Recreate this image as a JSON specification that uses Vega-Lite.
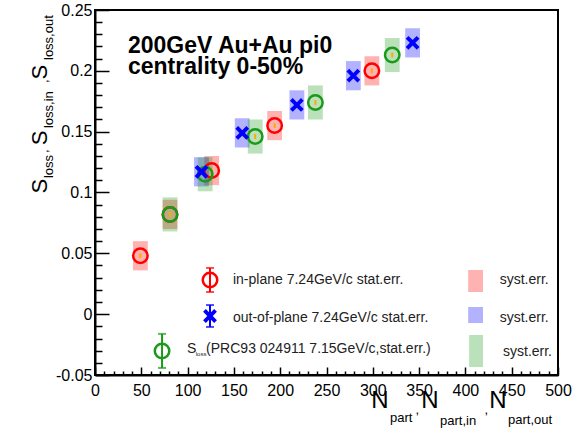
{
  "$schema": "https://vega.github.io/schema/vega-lite/v6.json",
  "width": 463,
  "height": 365,
  "autosize": {"type": "none"},
  "padding": {"left": 95, "top": 10, "right": 25, "bottom": 54},
  "background": "white",
  "config": {
    "font": "Liberation Sans",
    "view": {"stroke": "black", "strokeWidth": 2},
    "legend": {"disable": true}
  },
  "datasets": {
    "pts": [
      {"series": "in", "N": 49, "S": 0.048, "N_lo": 41, "N_hi": 57, "S_lo": 0.036, "S_hi": 0.060, "st_lo": 0.046, "st_hi": 0.050},
      {"series": "in", "N": 81, "S": 0.082, "N_lo": 73, "N_hi": 89, "S_lo": 0.070, "S_hi": 0.094, "st_lo": 0.080, "st_hi": 0.084},
      {"series": "in", "N": 126, "S": 0.118, "N_lo": 118, "N_hi": 134, "S_lo": 0.106, "S_hi": 0.130, "st_lo": 0.116, "st_hi": 0.120},
      {"series": "in", "N": 194, "S": 0.155, "N_lo": 186, "N_hi": 202, "S_lo": 0.143, "S_hi": 0.167, "st_lo": 0.153, "st_hi": 0.157},
      {"series": "in", "N": 299, "S": 0.200, "N_lo": 291, "N_hi": 307, "S_lo": 0.188, "S_hi": 0.212, "st_lo": 0.198, "st_hi": 0.202},
      {"series": "out", "N": 115, "S": 0.117, "N_lo": 107, "N_hi": 123, "S_lo": 0.105, "S_hi": 0.129, "st_lo": 0.115, "st_hi": 0.119},
      {"series": "out", "N": 159, "S": 0.149, "N_lo": 151, "N_hi": 167, "S_lo": 0.137, "S_hi": 0.161, "st_lo": 0.147, "st_hi": 0.151},
      {"series": "out", "N": 218, "S": 0.172, "N_lo": 210, "N_hi": 226, "S_lo": 0.160, "S_hi": 0.184, "st_lo": 0.170, "st_hi": 0.174},
      {"series": "out", "N": 279, "S": 0.196, "N_lo": 271, "N_hi": 287, "S_lo": 0.184, "S_hi": 0.208, "st_lo": 0.194, "st_hi": 0.198},
      {"series": "out", "N": 343, "S": 0.223, "N_lo": 335, "N_hi": 351, "S_lo": 0.211, "S_hi": 0.235, "st_lo": 0.221, "st_hi": 0.225},
      {"series": "prc", "N": 81, "S": 0.082, "N_lo": 73, "N_hi": 89, "S_lo": 0.068, "S_hi": 0.096, "st_lo": 0.080, "st_hi": 0.084},
      {"series": "prc", "N": 119, "S": 0.115, "N_lo": 111, "N_hi": 127, "S_lo": 0.101, "S_hi": 0.129, "st_lo": 0.113, "st_hi": 0.117},
      {"series": "prc", "N": 173, "S": 0.146, "N_lo": 165, "N_hi": 181, "S_lo": 0.132, "S_hi": 0.160, "st_lo": 0.144, "st_hi": 0.148},
      {"series": "prc", "N": 238, "S": 0.174, "N_lo": 230, "N_hi": 246, "S_lo": 0.160, "S_hi": 0.188, "st_lo": 0.172, "st_hi": 0.176},
      {"series": "prc", "N": 321, "S": 0.213, "N_lo": 313, "N_hi": 329, "S_lo": 0.199, "S_hi": 0.227, "st_lo": 0.211, "st_hi": 0.215}
    ],
    "leg": [
      {"series": "in", "x": 124.2, "y": 0.0281, "lo": 0.0182, "hi": 0.038},
      {"series": "out", "x": 124.2, "y": -0.0015, "lo": -0.0105, "hi": 0.0075},
      {"series": "prc", "x": 72.4, "y": -0.0302, "lo": -0.0442, "hi": -0.0162}
    ],
    "legbox": [
      {"series": "in", "x1": 403, "x2": 419, "y1": 0.0182, "y2": 0.0363},
      {"series": "out", "x1": 403, "x2": 419, "y1": -0.0073, "y2": 0.0059},
      {"series": "prc", "x1": 404, "x2": 419, "y1": -0.0434, "y2": -0.0171}
    ],
    "title": [
      {"t": "200GeV Au+Au pi0", "x": 35.6, "y": 0.2145},
      {"t": "centrality 0-50%", "x": 35.6, "y": 0.1978}
    ],
    "legtxt": [
      {"t": "in-plane 7.24GeV/c stat.err.", "x": 149, "y": 0.0281},
      {"t": "out-of-plane 7.24GeV/c stat.err.", "x": 149, "y": -0.0032},
      {"t": "S", "x": 99.4, "y": -0.0285},
      {"t": "(PRC93 024911 7.15GeV/c,stat.err.)", "x": 120, "y": -0.0285},
      {"t": "syst.err.", "x": 437, "y": 0.0281},
      {"t": "syst.err.", "x": 437, "y": -0.0032},
      {"t": "syst.err.", "x": 440.6, "y": -0.0311}
    ],
    "legsub": [
      {"t": "loss", "x": 108.8, "y": -0.0325}
    ],
    "ybig": [
      {"t": "S", "x": -59.4, "y": 0.1053},
      {"t": "S", "x": -59.4, "y": 0.1448},
      {"t": "S", "x": -59.4, "y": 0.199}
    ],
    "ysub": [
      {"t": "loss", "x": -49.7, "y": 0.1119},
      {"t": "loss,in", "x": -49.7, "y": 0.153},
      {"t": "loss,out", "x": -49.7, "y": 0.2089},
      {"t": ",", "x": -55, "y": 0.1325},
      {"t": ",", "x": -55, "y": 0.19}
    ],
    "xbig": [
      {"t": "N", "x": 307.8, "y": -0.0714},
      {"t": "N", "x": 361.8, "y": -0.0714},
      {"t": "N", "x": 435.2, "y": -0.0714}
    ],
    "xsub": [
      {"t": "part", "x": 318.6, "y": -0.0853},
      {"t": "part,in", "x": 372.6, "y": -0.0878},
      {"t": "part,out", "x": 446, "y": -0.087},
      {"t": ",", "x": 346, "y": -0.079},
      {"t": ",", "x": 420.5, "y": -0.079}
    ]
  },
  "resolve": {"axis": {"x": "independent", "y": "independent"}},
  "layer": [
    {
      "data": {"name": "pts"},
      "mark": {"type": "rect", "opacity": 0.3},
      "encoding": {
        "x": {"field": "N_lo", "type": "quantitative",
          "scale": {"domain": [0, 500], "nice": false, "zero": false},
          "axis": {"orient": "bottom", "title": null, "values": [0, 50, 100, 150, 200, 250, 300, 350, 400, 450, 500],
            "grid": false, "tickSize": -8, "tickWidth": 1.5, "tickColor": "black", "domainColor": "black", "domainWidth": 2,
            "labelFontSize": 16, "labelColor": "black", "labelPadding": 15, "labelFlush": false, "labelOverlap": false}},
        "x2": {"field": "N_hi"},
        "y": {"field": "S_lo", "type": "quantitative",
          "scale": {"domain": [-0.05, 0.25], "nice": false, "zero": false},
          "axis": {"orient": "left", "title": null, "values": [-0.05, 0, 0.05, 0.1, 0.15, 0.2, 0.25],
            "grid": false, "tickSize": -14, "tickWidth": 1.5, "tickColor": "black", "domainColor": "black", "domainWidth": 2,
            "labelFontSize": 16, "labelColor": "black", "labelPadding": 17, "labelOverlap": false,
            "labelExpr": "'' + datum.value"}},
        "y2": {"field": "S_hi"},
        "color": {"field": "series", "type": "nominal",
          "scale": {"domain": ["in", "out", "prc"], "range": ["#ff0000", "#0000ff", "#1a9a1a"]}}
      }
    },
    {
      "data": {"name": "pts"},
      "mark": {"type": "rule", "color": "#ffaa00", "strokeWidth": 2},
      "encoding": {
        "x": {"field": "N", "type": "quantitative",
          "axis": {"orient": "bottom", "title": null, "labels": false, "domain": false, "grid": false,
            "values": [10, 20, 30, 40, 60, 70, 80, 90, 110, 120, 130, 140, 160, 170, 180, 190, 210, 220, 230, 240, 260, 270, 280, 290, 310, 320, 330, 340, 360, 370, 380, 390, 410, 420, 430, 440, 460, 470, 480, 490],
            "tickSize": -4, "tickWidth": 1.5, "tickColor": "black"}},
        "y": {"field": "st_lo", "type": "quantitative",
          "axis": {"orient": "left", "title": null, "labels": false, "domain": false, "grid": false,
            "values": [-0.04, -0.03, -0.02, -0.01, 0.01, 0.02, 0.03, 0.04, 0.06, 0.07, 0.08, 0.09, 0.11, 0.12, 0.13, 0.14, 0.16, 0.17, 0.18, 0.19, 0.21, 0.22, 0.23, 0.24],
            "tickSize": -7, "tickWidth": 1.5, "tickColor": "black"}},
        "y2": {"field": "st_hi"}
      }
    },
    {
      "data": {"name": "pts"},
      "transform": [{"filter": "datum.series != 'out'"}],
      "mark": {"type": "point", "shape": "circle", "filled": false, "strokeWidth": 2.5, "size": 210, "opacity": 1},
      "encoding": {
        "x": {"field": "N", "type": "quantitative", "axis": null},
        "y": {"field": "S", "type": "quantitative", "axis": null},
        "color": {"field": "series", "type": "nominal"}
      }
    },
    {
      "data": {"name": "pts"},
      "transform": [{"filter": "datum.series == 'out'"}],
      "mark": {"type": "point", "shape": "M-0.4,0L-1,-0.6L-0.6,-1L0,-0.4L0.6,-1L1,-0.6L0.4,0L1,0.6L0.6,1L0,0.4L-0.6,1L-1,0.6Z", "filled": true, "size": 190, "opacity": 1},
      "encoding": {
        "x": {"field": "N", "type": "quantitative", "axis": null},
        "y": {"field": "S", "type": "quantitative", "axis": null},
        "color": {"field": "series", "type": "nominal"}
      }
    },
    {
      "data": {"name": "legbox"},
      "mark": {"type": "rect", "opacity": 0.3},
      "encoding": {
        "x": {"field": "x1", "type": "quantitative", "axis": null},
        "x2": {"field": "x2"},
        "y": {"field": "y1", "type": "quantitative", "axis": null},
        "y2": {"field": "y2"},
        "color": {"field": "series", "type": "nominal"}
      }
    },
    {
      "data": {"name": "leg"},
      "mark": {"type": "rule", "strokeWidth": 2},
      "encoding": {
        "x": {"field": "x", "type": "quantitative", "axis": null},
        "y": {"field": "lo", "type": "quantitative", "axis": null},
        "y2": {"field": "hi"},
        "color": {"field": "series", "type": "nominal"}
      }
    },
    {
      "data": {"name": "leg"},
      "mark": {"type": "tick", "orient": "horizontal", "size": 8, "thickness": 2},
      "encoding": {
        "x": {"field": "x", "type": "quantitative", "axis": null},
        "y": {"field": "lo", "type": "quantitative", "axis": null},
        "color": {"field": "series", "type": "nominal"}
      }
    },
    {
      "data": {"name": "leg"},
      "mark": {"type": "tick", "orient": "horizontal", "size": 8, "thickness": 2},
      "encoding": {
        "x": {"field": "x", "type": "quantitative", "axis": null},
        "y": {"field": "hi", "type": "quantitative", "axis": null},
        "color": {"field": "series", "type": "nominal"}
      }
    },
    {
      "data": {"name": "leg"},
      "transform": [{"filter": "datum.series != 'out'"}],
      "mark": {"type": "point", "shape": "circle", "filled": false, "strokeWidth": 2.5, "size": 210, "opacity": 1},
      "encoding": {
        "x": {"field": "x", "type": "quantitative", "axis": null},
        "y": {"field": "y", "type": "quantitative", "axis": null},
        "color": {"field": "series", "type": "nominal"}
      }
    },
    {
      "data": {"name": "leg"},
      "transform": [{"filter": "datum.series == 'out'"}],
      "mark": {"type": "point", "shape": "M-0.4,0L-1,-0.6L-0.6,-1L0,-0.4L0.6,-1L1,-0.6L0.4,0L1,0.6L0.6,1L0,0.4L-0.6,1L-1,0.6Z", "filled": true, "size": 190, "opacity": 1},
      "encoding": {
        "x": {"field": "x", "type": "quantitative", "axis": null},
        "y": {"field": "y", "type": "quantitative", "axis": null},
        "color": {"field": "series", "type": "nominal"}
      }
    },
    {
      "data": {"name": "title"},
      "mark": {"type": "text", "fontSize": 23, "fontWeight": "bold", "align": "left", "baseline": "alphabetic", "color": "black"},
      "encoding": {
        "x": {"field": "x", "type": "quantitative", "axis": null},
        "y": {"field": "y", "type": "quantitative", "axis": null},
        "text": {"field": "t"}
      }
    },
    {
      "data": {"name": "legtxt"},
      "mark": {"type": "text", "fontSize": 14, "align": "left", "baseline": "middle", "color": "#222222"},
      "encoding": {
        "x": {"field": "x", "type": "quantitative", "axis": null},
        "y": {"field": "y", "type": "quantitative", "axis": null},
        "text": {"field": "t"}
      }
    },
    {
      "data": {"name": "legsub"},
      "mark": {"type": "text", "fontSize": 6, "align": "left", "baseline": "middle", "color": "#222222"},
      "encoding": {
        "x": {"field": "x", "type": "quantitative", "axis": null},
        "y": {"field": "y", "type": "quantitative", "axis": null},
        "text": {"field": "t"}
      }
    },
    {
      "data": {"name": "ybig"},
      "mark": {"type": "text", "fontSize": 22, "angle": 270, "align": "center", "baseline": "middle", "color": "black"},
      "encoding": {
        "x": {"field": "x", "type": "quantitative", "axis": null},
        "y": {"field": "y", "type": "quantitative", "axis": null},
        "text": {"field": "t"}
      }
    },
    {
      "data": {"name": "ysub"},
      "mark": {"type": "text", "fontSize": 13, "angle": 270, "align": "left", "baseline": "middle", "color": "black"},
      "encoding": {
        "x": {"field": "x", "type": "quantitative", "axis": null},
        "y": {"field": "y", "type": "quantitative", "axis": null},
        "text": {"field": "t"}
      }
    },
    {
      "data": {"name": "xbig"},
      "mark": {"type": "text", "fontSize": 24, "align": "center", "baseline": "middle", "color": "black"},
      "encoding": {
        "x": {"field": "x", "type": "quantitative", "axis": null},
        "y": {"field": "y", "type": "quantitative", "axis": null},
        "text": {"field": "t"}
      }
    },
    {
      "data": {"name": "xsub"},
      "mark": {"type": "text", "fontSize": 13, "align": "left", "baseline": "middle", "color": "black"},
      "encoding": {
        "x": {"field": "x", "type": "quantitative", "axis": null},
        "y": {"field": "y", "type": "quantitative", "axis": null},
        "text": {"field": "t"}
      }
    }
  ]
}
